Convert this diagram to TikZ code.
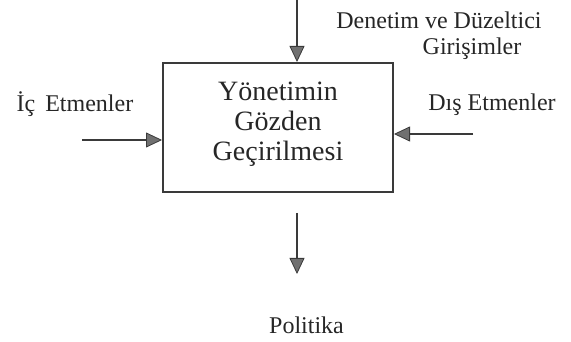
\documentclass[tikz,border=0pt]{standalone}
\usepackage{fontspec}
\setmainfont{Liberation Serif}
\usetikzlibrary{arrows.meta}
\definecolor{inkc}{HTML}{3A3A3A}
\definecolor{tipc}{HTML}{707070}
\begin{document}
\begin{tikzpicture}[x=1pt,y=-1pt,
  flow/.style={draw=inkc,line width=1.8pt,
    -{Triangle[length=16pt,width=15pt,fill=tipc,line width=0.8pt]}},
  lbl/.style={inner sep=0pt,anchor=base,text=black!85,font=\fontsize{24}{26}\selectfont},
  boxtxt/.style={inner sep=0pt,align=center,text=black!85,font=\fontsize{28}{30}\selectfont},
  mainbox/.style={draw=inkc,line width=2pt,minimum width=230pt,minimum height=129pt,inner sep=0pt}]
\useasboundingbox (0,0) rectangle (571,342);
\node[mainbox] (box) at (278,127.5) {};
\node[boxtxt] (boxtext) at (278,124) {Yönetimin\\Gözden\\Geçirilmesi};
\coordinate (topstart) at (297,-1);
\coordinate (leftstart) at (82,140);
\coordinate (rightstart) at (473,134);
\coordinate (botstart) at (297,213);
\coordinate (botend) at (297,274);
\draw[flow] (topstart) -- (topstart |- box.north);
\draw[flow] (leftstart) -- (leftstart -| box.west);
\draw[flow] (rightstart) -- (rightstart -| box.east);
\draw[flow] (botstart) -- (botend);
\node[lbl] (denetim) at (439,29) {Denetim ve Düzeltici};
\node[lbl] (girisim) at (472,55) {Girişimler};
\node[lbl] (ic) at (75,112) {İç\, Etmenler};
\node[lbl] (dis) at (492,111) {Dış Etmenler};
\node[lbl] (politika) at (306.5,333) {Politika};
\end{tikzpicture}
\end{document}
